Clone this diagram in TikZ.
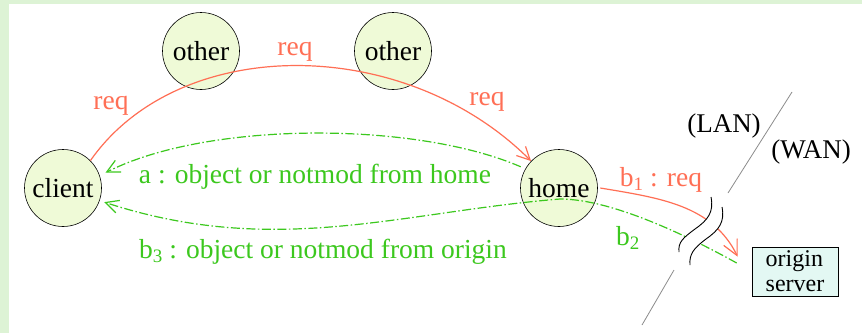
\documentclass[tikz,border=0pt]{standalone}
\usepackage{fontspec}
\setmainfont{Liberation Serif}
\usetikzlibrary{arrows.meta}

\definecolor{paneledge}{HTML}{DDF3D5}
\definecolor{hostfill}{HTML}{EFFAD7}
\definecolor{serverfill}{HTML}{E3F8F3}
\definecolor{reqred}{HTML}{FF6F55}
\definecolor{ansgreen}{HTML}{3CC81E}
\definecolor{divgray}{HTML}{8C8C8C}

% lowered index digit for b_1, b_2, b_3
\newcommand{\idx}[1]{\raisebox{-0.32ex}{\fontsize{19}{19}\selectfont #1}}

\tikzset{
  host/.style={circle, draw=black, line width=0.6pt, fill=hostfill,
    minimum size=77pt, inner sep=0pt, font=\fontsize{27.5}{30}\selectfont},
  serverbox/.style={rectangle, draw=black, line width=0.6pt, fill=serverfill,
    minimum width=86pt, minimum height=49pt, inner sep=0pt, align=left,
    font=\fontsize{24}{25}\selectfont},
  reqline/.style={draw=reqred, line width=1.2pt},
  ansline/.style={draw=ansgreen, line width=1.2pt,
    dash pattern=on 9pt off 2.5pt on 1.5pt off 2.5pt},
  reqlabel/.style={text=reqred, inner sep=0pt, font=\fontsize{27.5}{30}\selectfont},
  anslabel/.style={text=ansgreen, inner sep=0pt, font=\fontsize{27.5}{30}\selectfont},
  netlabel/.style={text=black, inner sep=0pt, font=\fontsize{27}{30}\selectfont},
  barb/.style={-{Straight Barb[length=13pt,width=13pt,line width=1.2pt]}},
  bigbarb/.style={-{Straight Barb[length=15pt,width=15pt,line width=1.2pt]}},
  wave/.style={draw=black, line width=0.9pt},
}

\begin{document}
\begin{tikzpicture}[x=1pt,y=-1pt]
\useasboundingbox (0,0) rectangle (862,333);
% panel
\fill[paneledge] (0,0) rectangle (862,333);
\fill[white] (9,4) rectangle (862,333);

% hosts
\node[host] (client) at (63,188) {client};
\node[host] (other1) at (201,51) {other};
\node[host] (other2) at (393,51) {other};
\node[host] (home) at (559,188) {home};
\node[serverbox] (origin) at (795,271.5) {origin\\server};

% LAN / WAN divider
\coordinate (divtop) at (792,92);
\coordinate (divbreakA) at (728,193);
\coordinate (divbreakB) at (674,270);
\coordinate (divbottom) at (642,325);
\draw[divgray, line width=0.8pt] (divtop) -- (divbreakA);
\draw[divgray, line width=0.8pt] (divbreakB) -- (divbottom);
\node[netlabel, anchor=base] (lan) at (724,132) {(LAN)};
\node[netlabel, anchor=base] (wan) at (811,158) {(WAN)};

% request forwarded along the peers
\draw[reqline, barb] (client.45) .. controls (179,34) and (404,34) .. (home.136);
\node[reqlabel, anchor=base] (req1) at (111,109) {req};
\node[reqlabel, anchor=base] (req2) at (295,55) {req};
\node[reqlabel, anchor=base] (req3) at (487,105) {req};

% answer a: home -> client
\draw[ansline, barb] ([shift={(-4,-3)}]home.152)
  .. controls (415,121) and (207,121) .. ([shift={(6,-2)}]client.20);
\node[anslabel, anchor=base] (alabel) at (315,183) {a : object or notmod from home};

% b1: home -> origin server
\draw[reqline, bigbarb] ([shift={(2.5,0)}]home.east)
  .. controls (660,198) and (712,205) .. ([shift={(-14,10)}]origin.north west);
\node[reqlabel, anchor=base] (b1label) at (661,186) {b\idx{1} : req};

% b2 / b3: origin server -> home -> client
\coordinate (via) at (560,199);
\draw[ansline, barb] ([shift={(-15,-8.5)}]origin.west)
  .. controls (697,241) and (615,199) .. (via)
  .. controls (400,212) and (275,258) .. ([shift={(4.5,1.5)}]client.-19);
\node[anslabel, anchor=base west] (b2label) at (616,245) {b\idx{2}};
\node[anslabel, anchor=base] (b3label) at (323,258) {b\idx{3} : object or notmod from origin};

% break marker on the divider
\fill[white] (711,197) .. controls (714,212) and (708,220) .. (695,229)
  .. controls (683,238) and (678,242) .. (679,252)
  -- (690,265) .. controls (689,254) and (694,248) .. (706,239)
  .. controls (719,230) and (725,222) .. (722,207) -- cycle;
\draw[wave] (711,197) .. controls (714,212) and (708,220) .. (695,229)
  .. controls (683,238) and (678,242) .. (679,252);
\draw[wave] (722,207) .. controls (725,222) and (719,230) .. (706,239)
  .. controls (694,248) and (689,254) .. (690,265);
\end{tikzpicture}
\end{document}
